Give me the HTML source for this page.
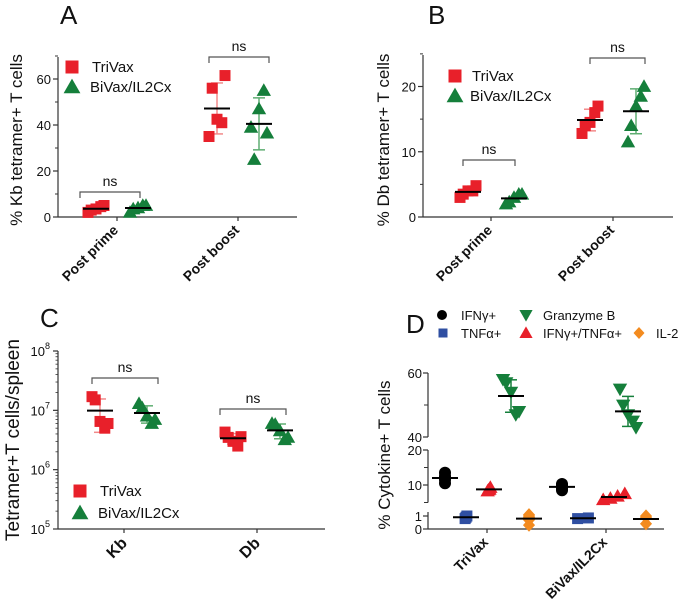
<!DOCTYPE html>
<html><head><meta charset="utf-8"><style>
html,body{margin:0;padding:0;background:#fff;}
svg{display:block;font-family:"Liberation Sans",Arial,sans-serif;}
</style></head><body>
<svg id="fig" width="680" height="600" viewBox="0 0 680 600" xmlns="http://www.w3.org/2000/svg"></svg>
<script>
// ---- Panel A data (% Kb tetramer+) ----
const aCategories = ["Post prime", "Post boost"];
const aTriVax = [[2, 3, 3.5, 4.5, 5], [35, 56, 42.5, 41, 61.5]];
const aBiVax = [[2, 3.5, 4, 5, 5], [39, 25, 47, 55, 36.5]];
const aTicks = [0, 20, 40, 60];
// ---- Panel B data (% Db tetramer+) ----
const bCategories = ["Post prime", "Post boost"];
const bTriVax = [[3, 3.5, 4, 4, 4.8], [12.8, 14, 14.5, 16, 17]];
const bBiVax = [[2, 2.3, 3, 3.5, 3.5], [11.5, 14, 17, 18.5, 20]];
const bTicks = [0, 10, 20];
// ---- Panel C data (cells/spleen) ----
const cCategories = ["Kb", "Db"];
const cTriVax = [[1.7e7, 1.5e7, 6.5e6, 5e6, 6e6], [4.3e6, 3.5e6, 3e6, 2.5e6, 3.6e6]];
const cBiVax = [[1.3e7, 1.1e7, 8e6, 6e6, 7e6], [6e6, 5.8e6, 4.5e6, 3.2e6, 3.5e6]];
const cTickExps = [5, 6, 7, 8];
// ---- Panel D data (% cytokine+) ----
const dCategories = ["TriVax", "BiVax/IL2Cx"];
const dIFNg = [[10.5, 11.5, 12, 12.5, 13.5], [8.5, 9, 9.5, 10, 10.3]];
const dTNFa = [[0.8, 0.9, 1.0], [0.8, 0.85]];
const dDouble = [[8.3, 8.6, 8.8, 9.3], [5.8, 6.2, 6.8, 7.5]];
const dGzB = [[58, 57, 54, 47, 48], [55, 50, 47, 45, 43]];
const dIL2 = [[0.3, 0.7, 0.9, 1.0, 1.1], [0.4, 0.9, 1.0]];
const dTicks = [0, 1, 10, 20, 40, 60];

const NS = "http://www.w3.org/2000/svg";
const svg = document.getElementById("fig");
const RED = "#e8202a", GREEN = "#157f3b", BLUE = "#2f4fa2", ORANGE = "#f38b1f";
const PINK = "#f28a8a", LGREEN = "#5fae72";

function mk(tag, attrs, parent) {
  const e = document.createElementNS(NS, tag);
  for (const k in attrs) e.setAttribute(k, attrs[k]);
  (parent || svg).appendChild(e);
  return e;
}
function txt(x, y, s, size, name, extra) {
  const t = mk("text", Object.assign({x: x, y: y, "font-size": size, fill: "#111"}, extra || {}));
  t.textContent = s;
  
  
  return t;
}
function line(x1, y1, x2, y2, stroke, w, name) {
  const l = mk("line", {x1: x1, y1: y1, x2: x2, y2: y2, stroke: stroke, "stroke-width": w});
  
  
  return l;
}
function marker(shape, x, y, color, s, name) {
  let e;
  if (shape === "square") e = mk("rect", {x: x - s / 2, y: y - s / 2, width: s, height: s, fill: color});
  else if (shape === "tri") e = mk("polygon", {points: `${x},${y - s * 0.6} ${x - s * 0.6},${y + s * 0.45} ${x + s * 0.6},${y + s * 0.45}`, fill: color});
  else if (shape === "dtri") e = mk("polygon", {points: `${x},${y + s * 0.6} ${x - s * 0.6},${y - s * 0.45} ${x + s * 0.6},${y - s * 0.45}`, fill: color});
  else if (shape === "circle") e = mk("circle", {cx: x, cy: y, r: s / 2, fill: color});
  else if (shape === "diamond") e = mk("polygon", {points: `${x},${y - s * 0.6} ${x + s * 0.55},${y} ${x},${y + s * 0.6} ${x - s * 0.55},${y}`, fill: color});
  
  
  return e;
}
function mean(a) { return a.reduce((s, v) => s + v, 0) / a.length; }
function sd(a) { const m = mean(a); return Math.sqrt(a.reduce((s, v) => s + (v - m) * (v - m), 0) / Math.max(1, a.length - 1)); }
const JIT = [-1, -0.6, 0, 0.6, 1];

function group(vals, cx, yf, shape, color, ebColor, name, size, showEb, spread) {
  const m = mean(vals), s = sd(vals);
  if (showEb) {
    line(cx, yf(m - s), cx, yf(m + s), ebColor, 1.5, name + "-error-bar");
    line(cx - 6, yf(m + s), cx + 6, yf(m + s), ebColor, 1.5, name + "-error-cap-top");
    line(cx - 6, yf(m - s), cx + 6, yf(m - s), ebColor, 1.5, name + "-error-cap-bottom");
  }
  vals.forEach((v, i) => {
    const j = vals.length === 5 ? JIT[i] * spread : (i - (vals.length - 1) / 2) * spread * 0.9;
    marker(shape, cx + j, yf(v), color, size, name + "-point");
  });
  line(cx - 13, yf(m), cx + 13, yf(m), "#000", 2, name + "-mean");
}
function bracket(x1, x2, y, name) {
  const p = mk("path", {d: `M${x1},${y + 6}V${y}H${x2}V${y + 6}`, fill: "none", stroke: "#555", "stroke-width": 1.2});
  
  
  txt((x1 + x2) / 2, y - 6, "ns", 14, name + "-ns-label", {"text-anchor": "middle"});
}
function xlabel(x, y, s, size, name) {
  txt(x, y, s, size, name, {"text-anchor": "end", "font-weight": "bold", transform: `rotate(-45 ${x} ${y})`});
}
function legend2(x, y1, y2, tx, name) {
  marker("square", x, y1, RED, 13, name + "-trivax-marker");
  txt(tx, y1 + 5, "TriVax", 15, name + "-trivax-label");
  marker("tri", x, y2, GREEN, 14, name + "-bivax-marker");
  txt(tx - 2, y2 + 5, "BiVax/IL2Cx", 15, name + "-bivax-label");
}

// ===== Panel A =====
(function () {
  const ax = 58, y0 = 217, top = 57, xr = 297;
  const yf = v => y0 - v * (138 / 60);
  const xs = [117, 238];
  txt(60, 24, "A", 26, "panel-a-letter");
  line(ax, top, ax, y0, "#333", 1.2, "panel-a-y-axis");
  line(ax, y0, xr, y0, "#333", 1.2, "panel-a-x-axis");
  aTicks.forEach(t => { line(ax - 5, yf(t), ax, yf(t), "#333", 1.2, "panel-a-y-tick"); txt(ax - 7, yf(t) + 5, String(t), 13, "panel-a-y-tick-label", {"text-anchor": "end"}); });
  [10, 30, 50, 70].forEach(t => line(ax - 3, yf(t), ax, yf(t), "#333", 1, "panel-a-y-minor-tick"));
  xs.forEach((x, i) => { line(x, y0, x, y0 + 4, "#333", 1.2, "panel-a-x-tick"); xlabel(x + 2, y0 + 14, aCategories[i], 14, "panel-a-x-label"); });
  txt(22, 140, "% Kb tetramer+ T cells", 17, "panel-a-y-title", {"text-anchor": "middle", transform: "rotate(-90 22 140)"});
  xs.forEach((x, i) => {
    group(aTriVax[i], x - 21, yf, "square", RED, PINK, "panel-a-trivax", 11, i === 1, 8);
    group(aBiVax[i], x + 21, yf, "tri", GREEN, LGREEN, "panel-a-bivax", 12, i === 1, 8);
  });
  bracket(80, 140, 192, "panel-a-prime");
  bracket(209, 269, 57, "panel-a-boost");
  legend2(72, 67, 87, 92, "panel-a-legend");
})();

// ===== Panel B =====
(function () {
  const ax = 423, y0 = 217, top = 55, xr = 673;
  const yf = v => y0 - v * (130.5 / 20);
  const xs = [491, 613];
  txt(428, 24, "B", 26, "panel-b-letter");
  line(ax, top, ax, y0, "#333", 1.2, "panel-b-y-axis");
  line(ax, y0, xr, y0, "#333", 1.2, "panel-b-x-axis");
  bTicks.forEach(t => { line(ax - 5, yf(t), ax, yf(t), "#333", 1.2, "panel-b-y-tick"); txt(ax - 7, yf(t) + 5, String(t), 13, "panel-b-y-tick-label", {"text-anchor": "end"}); });
  [5, 15, 25].forEach(t => line(ax - 3, yf(t), ax, yf(t), "#333", 1, "panel-b-y-minor-tick"));
  xs.forEach((x, i) => { line(x, y0, x, y0 + 4, "#333", 1.2, "panel-b-x-tick"); xlabel(x + 2, y0 + 14, bCategories[i], 14, "panel-b-x-label"); });
  txt(389, 140, "% Db tetramer+ T cells", 17, "panel-b-y-title", {"text-anchor": "middle", transform: "rotate(-90 389 140)"});
  xs.forEach((x, i) => {
    group(bTriVax[i], x - 23, yf, "square", RED, PINK, "panel-b-trivax", 11, i === 1, 8);
    group(bBiVax[i], x + 23, yf, "tri", GREEN, LGREEN, "panel-b-bivax", 12, i === 1, 8);
  });
  bracket(463, 515, 160, "panel-b-prime");
  bracket(590, 645, 58, "panel-b-boost");
  legend2(455, 76, 96, 472, "panel-b-legend");
})();

// ===== Panel C =====
(function () {
  const ax = 58, y0 = 529, top = 351, xr = 325;
  const yf = v => y0 - (Math.log10(v) - 5) * (178 / 3);
  const xs = [124, 257];
  txt(40, 327, "C", 26, "panel-c-letter");
  line(ax, top, ax, y0, "#333", 1.2, "panel-c-y-axis");
  line(ax, y0, xr, y0, "#333", 1.2, "panel-c-x-axis");
  cTickExps.forEach(e => {
    const y = yf(Math.pow(10, e));
    line(ax - 5, y, ax, y, "#333", 1.2, "panel-c-y-tick");
    txt(ax - 13, y + 5, "10", 13, "panel-c-y-tick-label", {"text-anchor": "end"});
    txt(ax - 13, y - 2, String(e), 9, "panel-c-y-tick-exponent");
    for (let k = 2; k < 10 && e < 8; k++) line(ax - 2.5, yf(k * Math.pow(10, e)), ax, yf(k * Math.pow(10, e)), "#333", 0.8, "panel-c-y-minor-tick");
  });
  xs.forEach((x, i) => { line(x, y0, x, y0 + 4, "#333", 1.2, "panel-c-x-tick"); xlabel(x + 4, y0 + 15, cCategories[i], 16, "panel-c-x-label"); });
  txt(19, 440, "Tetramer+T cells/spleen", 19, "panel-c-y-title", {"text-anchor": "middle", transform: "rotate(-90 19 440)"});
  xs.forEach((x, i) => {
    group(cTriVax[i], x - 24, yf, "square", RED, PINK, "panel-c-trivax", 11, true, 8);
    group(cBiVax[i], x + 23, yf, "tri", GREEN, LGREEN, "panel-c-bivax", 12, true, 8);
  });
  bracket(92, 158, 378, "panel-c-kb");
  bracket(220, 286, 409, "panel-c-db");
  legend2(80, 491, 513, 100, "panel-c-legend");
})();

// ===== Panel D =====
(function () {
  const ax = 428, y0 = 529, xr = 664;
  const yf = v => v >= 40 ? 437 - (v - 40) * 3.2 : (v >= 5 ? 502.5 - (v - 5) * 3.5 : 529 - v * 13);
  const xs = [487, 606];
  txt(406, 333, "D", 26, "panel-d-letter");
  line(ax, 373, ax, 437, "#333", 1.2, "panel-d-y-axis-upper");
  line(ax, 450, ax, 502.5, "#333", 1.2, "panel-d-y-axis-middle");
  line(ax, 512, ax, y0, "#333", 1.2, "panel-d-y-axis-lower");
  line(ax, y0, xr, y0, "#333", 1.2, "panel-d-x-axis");
  dTicks.forEach(t => { line(ax - 5, yf(t), ax, yf(t), "#333", 1.2, "panel-d-y-tick"); txt(ax - 6, yf(t) + 5, String(t), 13, "panel-d-y-tick-label", {"text-anchor": "end"}); });
  [50, 15, 5].forEach(t => line(ax - 4, yf(t), ax, yf(t), "#333", 1, "panel-d-y-minor-tick"));
  xs.forEach((x, i) => { line(x, y0, x, y0 + 4, "#333", 1.2, "panel-d-x-tick"); xlabel(x + 2, y0 + 14, dCategories[i], 14, "panel-d-x-label"); });
  txt(390, 455, "% Cytokine+ T cells", 17, "panel-d-y-title", {"text-anchor": "middle", transform: "rotate(-90 390 455)"});
  const offs = [-42, -21, 2, 24, 42];
  xs.forEach((x, i) => {
    const c = x + (i === 0 ? 0 : -2);
    group(dIFNg[i], c + offs[0], yf, "circle", "#000", "#000", "panel-d-ifng", 12, false, 0);
    group(dTNFa[i], c + offs[1], yf, "square", BLUE, BLUE, "panel-d-tnfa", 11, false, i ? 12 : 1);
    group(dDouble[i], c + offs[2] + (i ? 8 : 0), yf, "tri", RED, RED, "panel-d-ifng-tnfa", 12, false, i ? 8 : 1);
    group(dGzB[i], c + offs[3], yf, "dtri", GREEN, GREEN, "panel-d-granzyme-b", 12, true, 8);
    group(dIL2[i], c + offs[4], yf, "diamond", ORANGE, ORANGE, "panel-d-il2", 11, false, 0);
  });
  marker("circle", 442, 315, "#000", 10, "panel-d-legend-ifng-marker");
  txt(461, 320, "IFNγ+", 13, "panel-d-legend-ifng-label");
  marker("dtri", 526, 315, GREEN, 11, "panel-d-legend-gzb-marker");
  txt(543, 320, "Granzyme B", 13, "panel-d-legend-gzb-label");
  marker("square", 443, 333, BLUE, 9, "panel-d-legend-tnfa-marker");
  txt(461, 338, "TNFα+", 13, "panel-d-legend-tnfa-label");
  marker("tri", 526, 333, RED, 11, "panel-d-legend-double-marker");
  txt(543, 338, "IFNγ+/TNFα+", 13, "panel-d-legend-double-label");
  marker("diamond", 639, 333, ORANGE, 10, "panel-d-legend-il2-marker");
  txt(656, 338, "IL-2", 13, "panel-d-legend-il2-label");
})();
</script>
</body></html>
